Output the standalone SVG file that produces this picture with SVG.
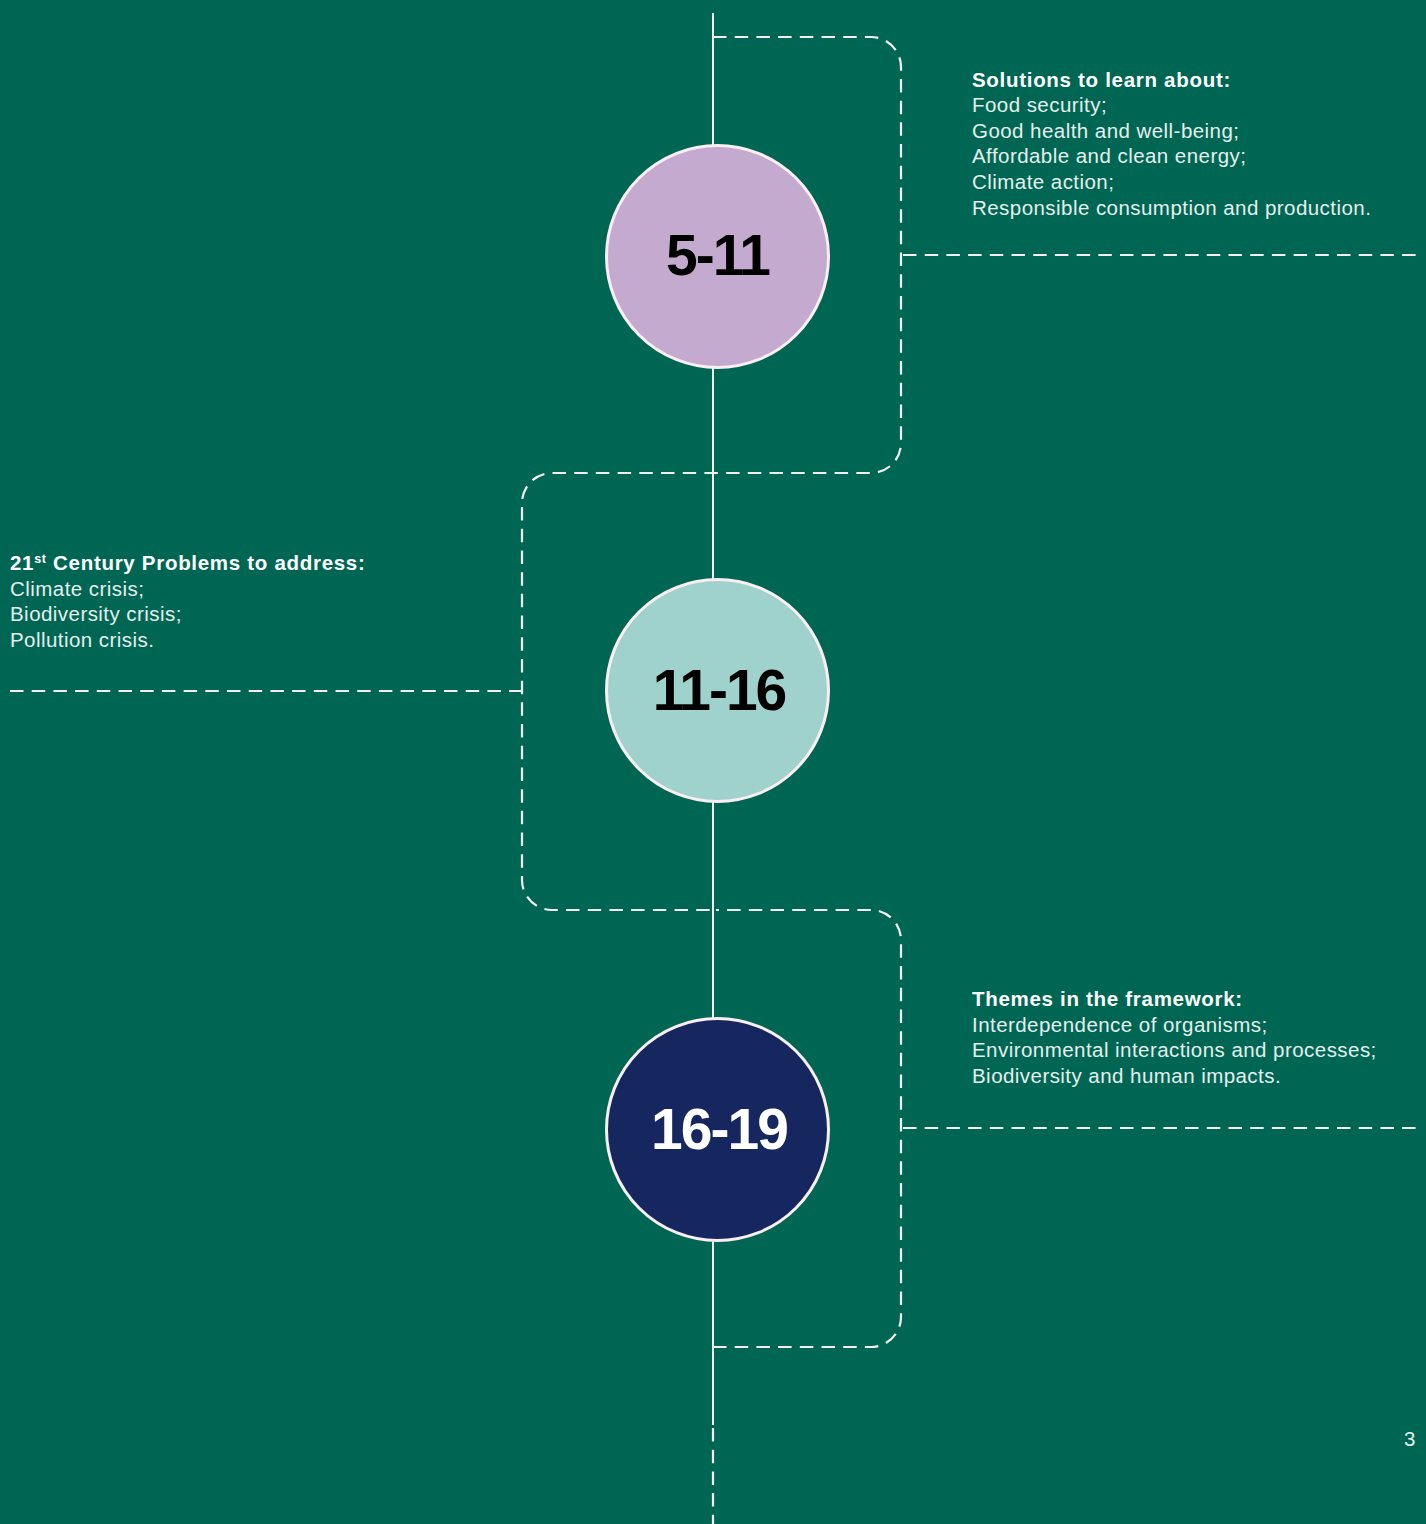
<svg xmlns="http://www.w3.org/2000/svg" width="1426" height="1524" viewBox="0 0 1426 1524">
<style>
.bg{fill:#006654}
.solid{stroke:#f4eef0;stroke-width:2;fill:none}
.dash{stroke:#f4eef0;stroke-width:2.2;fill:none;stroke-dasharray:13.5 8.2}
.ring{stroke:#fbeef2;stroke-width:3}
.num{font-family:"Liberation Sans",Arial,sans-serif;font-weight:bold;font-size:57px;text-anchor:middle;letter-spacing:-2px}
.hd{font-family:"Liberation Sans",Arial,sans-serif;font-weight:bold;font-size:20.5px;letter-spacing:0.7px;fill:#ffffff}
.tx{font-family:"Liberation Sans",Arial,sans-serif;font-size:20.5px;letter-spacing:0.45px;fill:#e6efec}
</style>
<rect class="bg" x="0" y="0" width="1426" height="1524"/>
<g id="connectors">
<line class="solid" x1="713" y1="13" x2="713" y2="1425"/>
<line class="dash" x1="713" y1="1428" x2="713" y2="1524"/>
<path class="dash" d="M713 37 H871 A30 30 0 0 1 901 67 V443 A30 30 0 0 1 871 473 H552 A30 30 0 0 0 522 503 V880 A30 30 0 0 0 552 910 H713"/>
<path class="dash" d="M713 1347 H871 A30 30 0 0 0 901 1317 V940 A30 30 0 0 0 871 910 H716"/>
<line class="dash" x1="903" y1="255" x2="1416" y2="255"/>
<line class="dash" x1="10" y1="691" x2="521" y2="691"/>
<line class="dash" x1="903" y1="1128" x2="1416" y2="1128"/>
</g>
<g id="node-5-11">
<circle class="ring" cx="717.5" cy="256.5" r="111" fill="#c5aad0"/>
<text class="num" x="717.5" y="275" fill="#000000">5-11</text>
</g>
<g id="node-11-16">
<circle class="ring" cx="717.5" cy="690.5" r="111" fill="#9fd2cd"/>
<text class="num" x="719" y="710" fill="#000000">11-16</text>
</g>
<g id="node-16-19">
<circle class="ring" cx="717.5" cy="1129.5" r="111" fill="#16275f"/>
<text class="num" x="719" y="1149" fill="#ffffff">16-19</text>
</g>
<g id="solutions">
<text class="hd" x="972" y="87">Solutions to learn about:</text>
<text class="tx" x="972" y="112">Food security;</text>
<text class="tx" x="972" y="138">Good health and well-being;</text>
<text class="tx" x="972" y="163">Affordable and clean energy;</text>
<text class="tx" x="972" y="189">Climate action;</text>
<text class="tx" x="972" y="215">Responsible consumption and production.</text>
</g>
<g id="problems">
<text class="hd" x="10" y="570">21<tspan font-size="12.5" dy="-7">st</tspan><tspan dy="7"> Century Problems to address:</tspan></text>
<text class="tx" x="10" y="596">Climate crisis;</text>
<text class="tx" x="10" y="621">Biodiversity crisis;</text>
<text class="tx" x="10" y="647">Pollution crisis.</text>
</g>
<g id="themes">
<text class="hd" x="972" y="1006">Themes in the framework:</text>
<text class="tx" x="972" y="1032">Interdependence of organisms;</text>
<text class="tx" x="972" y="1057">Environmental interactions and processes;</text>
<text class="tx" x="972" y="1083">Biodiversity and human impacts.</text>
</g>
<text class="tx" x="1404" y="1446" font-size="18" style="letter-spacing:0">3</text>
</svg>
